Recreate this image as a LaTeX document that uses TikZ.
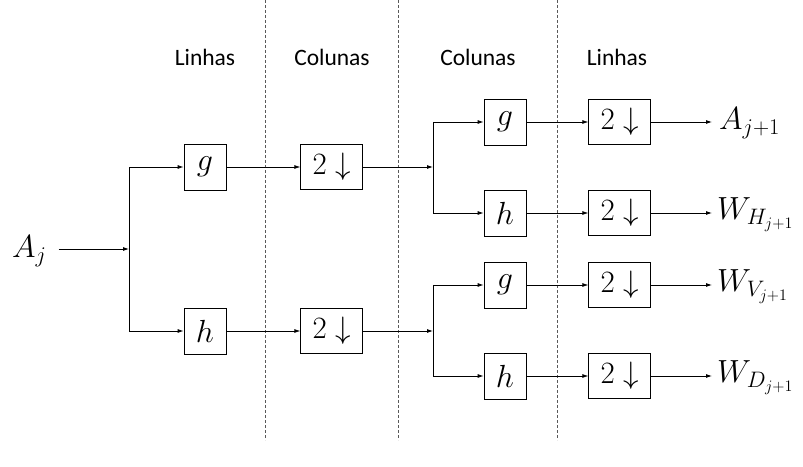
\RequirePackage{fix-cm}
\documentclass[tikz,border=0pt]{standalone}
\usepackage[no-math]{fontspec}
\setmainfont{Carlito}
\usepackage{tikz}
\usetikzlibrary{arrows,positioning}
\usetikzlibrary{arrows.meta}
\tikzset{
filter_box/.style={rectangle, draw, line width=0.8pt, inner sep=0pt, minimum width=42pt, minimum height=46pt, font=\fontsize{32}{36}\selectfont},
down_box/.style={rectangle, draw, line width=0.8pt, inner sep=0pt, minimum width=62pt, minimum height=45pt, font=\fontsize{31}{36}\selectfont},
signal/.style={inner sep=0pt, font=\fontsize{32}{36}\selectfont},
dir_label/.style={inner sep=0pt, font=\fontsize{23.5}{28}\selectfont},
sep_line/.style={dashed, dash pattern=on 3pt off 2pt, line width=0.6pt, color=black!65},
flow/.style={line width=0.8pt, -{Latex[length=6pt,width=4pt]}},
wire/.style={line width=0.8pt}
}

\begin{document}
\begin{tikzpicture}[x=1pt,y=1pt]
    \useasboundingbox (0,0) rectangle (803,466);
    % separators and headings
    \foreach \x in {265,398,557}
        \draw[sep_line] (\x,466) -- (\x,26);
    \node[dir_label] (lbl_1) at (205,409) {Linhas};
    \node[dir_label] (lbl_2) at (332,409) {Colunas};
    \node[dir_label] (lbl_3) at (478,409) {Colunas};
    \node[dir_label] (lbl_4) at (617,409) {Linhas};
    % first stage
    \node[signal, anchor=base west] (A_j) at (12,208) {$A_j$};
    \coordinate (split_1) at (129,217);
    \node[filter_box] (g_1) at (205,299) {$g$};
    \node[filter_box] (h_1) at (205,135) {$h$};
    \node[down_box] (d_1) [right=74 of g_1] {$2\downarrow$};
    \node[down_box] (d_2) [right=74 of h_1] {$2\downarrow$};
    % second stage
    \coordinate (split_2) at (433,299);
    \coordinate (split_3) at (433,135);
    \node[filter_box] (g_2) at (505,344) {$g$};
    \node[filter_box] (h_2) at (505,253) {$h$};
    \node[filter_box] (g_3) at (505,181) {$g$};
    \node[filter_box] (h_3) at (505,90) {$h$};
    \node[down_box] (d_3) [right=62 of g_2] {$2\downarrow$};
    \node[down_box] (d_4) [right=62 of h_2] {$2\downarrow$};
    \node[down_box] (d_5) [right=62 of g_3] {$2\downarrow$};
    \node[down_box] (d_6) [right=62 of h_3] {$2\downarrow$};
    % outputs
    \node[signal, anchor=base west] (out_1) at (719,336) {$A_{j+1}$};
    \node[signal, anchor=base west] (out_2) at (717,246) {$W_{H_{j+1}}$};
    \node[signal, anchor=base west] (out_3) at (717,174) {$W_{V_{j+1}}$};
    \node[signal, anchor=base west] (out_4) at (717,83) {$W_{D_{j+1}}$};

    \draw[flow] ([xshift=12]A_j.east |- split_1) -- (split_1);
    \draw[flow] (split_1) |- (g_1);
    \draw[flow] (split_1) |- (h_1);
    \draw[flow] (g_1) -- (d_1);
    \draw[flow] (h_1) -- (d_2);
    \draw[flow] (d_1) -- (split_2);
    \draw[flow] (d_2) -- (split_3);
    \draw[wire] (split_2 |- g_2) -- (split_2 |- h_2);
    \draw[wire] (split_3 |- g_3) -- (split_3 |- h_3);
    \draw[flow] (split_2 |- g_2) -- (g_2);
    \draw[flow] (split_2 |- h_2) -- (h_2);
    \draw[flow] (split_3 |- g_3) -- (g_3);
    \draw[flow] (split_3 |- h_3) -- (h_3);
    \draw[flow] (g_2) -- (d_3);
    \draw[flow] (h_2) -- (d_4);
    \draw[flow] (g_3) -- (d_5);
    \draw[flow] (h_3) -- (d_6);
    \draw[flow] (d_3) -- ([xshift=-7]out_1.west |- d_3);
    \draw[flow] (d_4) -- ([xshift=-5]out_2.west |- d_4);
    \draw[flow] (d_5) -- ([xshift=-5]out_3.west |- d_5);
    \draw[flow] (d_6) -- ([xshift=-5]out_4.west |- d_6);
\end{tikzpicture}
\end{document}
